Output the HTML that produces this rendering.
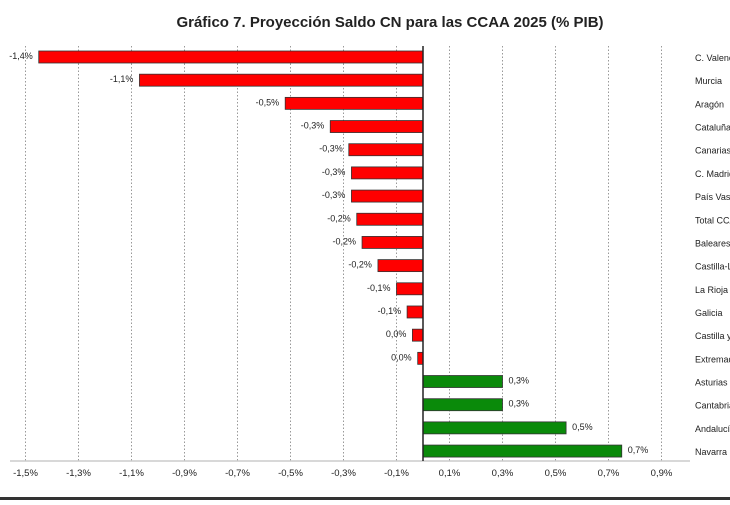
<!DOCTYPE html>
<html><head><meta charset="utf-8"><style>
body{margin:0;background:#fff;width:730px;height:500px;overflow:hidden;font-family:"Liberation Sans",sans-serif}
</style></head><body>
<svg width="730" height="500" xmlns="http://www.w3.org/2000/svg">
<text x="390" y="27" text-anchor="middle" font-size="15" font-weight="bold" fill="#222">Gráfico 7. Proyección Saldo CN para las CCAA 2025 (% PIB)</text>
<g id="grid"></g><g id="bars"></g><g id="labels"></g><g id="ticks"></g>
<line x1="10" y1="461" x2="690" y2="461" stroke="#ccc" stroke-width="1.5"/>
<line x1="423" y1="46" x2="423" y2="461" stroke="#222" stroke-width="1.5"/>
<rect x="0" y="497" width="730" height="3" fill="#333"/>
</svg>
<script>
const categories=["C. Valenciana","Murcia","Aragón","Cataluña","Canarias","C. Madrid","País Vasco","Total CCAA","Baleares","Castilla-La Mancha","La Rioja","Galicia","Castilla y León","Extremadura","Asturias","Cantabria","Andalucía","Navarra"];
const values=[-1.45,-1.07,-0.52,-0.35,-0.28,-0.27,-0.27,-0.25,-0.23,-0.17,-0.1,-0.06,-0.04,-0.02,0.3,0.3,0.54,0.75];
const valueLabels=["-1,4%","-1,1%","-0,5%","-0,3%","-0,3%","-0,3%","-0,3%","-0,2%","-0,2%","-0,2%","-0,1%","-0,1%","0,0%","0,0%","0,3%","0,3%","0,5%","0,7%"];
const tickValues=[-1.5,-1.3,-1.1,-0.9,-0.7,-0.5,-0.3,-0.1,0.1,0.3,0.5,0.7,0.9];
const tickLabels=["-1,5%","-1,3%","-1,1%","-0,9%","-0,7%","-0,5%","-0,3%","-0,1%","0,1%","0,3%","0,5%","0,7%","0,9%"];
const NS="http://www.w3.org/2000/svg";
const x=v=>423+v*265;
const y=i=>57+i*23.18;
function mk(t,a,p,txt){const e=document.createElementNS(NS,t);for(const k in a)e.setAttribute(k,a[k]);if(txt!==undefined)e.textContent=txt;document.getElementById(p).appendChild(e);return e;}
tickValues.forEach((v,i)=>{
 const g=mk('line',{x1:x(v),x2:x(v),y1:46,y2:461,stroke:'#999','stroke-dasharray':'1.5,2','stroke-width':1},'grid');
 
 
 const t=mk('text',{x:x(v),y:476,'text-anchor':'middle','font-size':9.5,fill:'#222'},'ticks',tickLabels[i]);
 
 
});
categories.forEach((c,i)=>{
 const v=values[i],x0=Math.min(x(0),x(v)),w=Math.abs(x(v)-x(0));
 const b=mk('rect',{x:x0,y:y(i)-6,width:w,height:12,fill:v<0?'#ff0000':'#0a8a0a',stroke:'#333','stroke-width':0.8},'bars');
 
 
 const vl=mk('text',{x:v<0?x(v)-6:x(v)+6,y:y(i)+2,'text-anchor':v<0?'end':'start','font-size':9,fill:'#222'},'labels',valueLabels[i]);
 
 
 const cl=mk('text',{x:695,y:y(i)+4,'font-size':9,fill:'#222'},'labels',c);
 
 
});
</script>
</body></html>
